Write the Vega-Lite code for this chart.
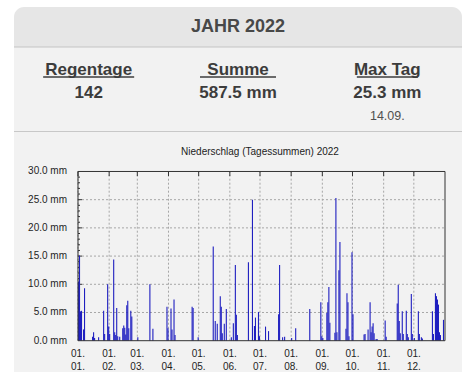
{
  "$schema": "https://vega.github.io/schema/vega-lite/v6.json",
  "background": "white",
  "padding": {"left": 13, "top": 7, "right": 13, "bottom": 7},
  "autosize": {"type": "pad"},
  "bounds": "flush",
  "spacing": 0,
  "config": {"view": {"stroke": null}, "font": "Liberation Sans"},
  "datasets": {
    "stats": [
      {"label": "Regentage", "value": "142", "sub": ""},
      {"label": "Summe", "value": "587.5 mm", "sub": ""},
      {"label": "Max Tag", "value": "25.3 mm", "sub": "14.09."}
    ],
    "months": [
      {"date": "2022-01-01"}, {"date": "2022-02-01"}, {"date": "2022-03-01"}, {"date": "2022-04-01"},
      {"date": "2022-05-01"}, {"date": "2022-06-01"}, {"date": "2022-07-01"}, {"date": "2022-08-01"},
      {"date": "2022-09-01"}, {"date": "2022-10-01"}, {"date": "2022-11-01"}, {"date": "2022-12-01"}
    ],
    "ylabels": [{"v": 0}, {"v": 5}, {"v": 10}, {"v": 15}, {"v": 20}, {"v": 25}, {"v": 30}],
    "levels": [{"v": 5}, {"v": 10}, {"v": 15}, {"v": 20}, {"v": 25}],
    "minor": [
      {"v": 1}, {"v": 2}, {"v": 3}, {"v": 4}, {"v": 6}, {"v": 7}, {"v": 8}, {"v": 9},
      {"v": 11}, {"v": 12}, {"v": 13}, {"v": 14}, {"v": 16}, {"v": 17}, {"v": 18}, {"v": 19},
      {"v": 21}, {"v": 22}, {"v": 23}, {"v": 24}, {"v": 26}, {"v": 27}, {"v": 28}, {"v": 29}
    ],
    "rain": [
      {"date": "2022-01-01", "mm": 10.5}, {"date": "2022-01-02", "mm": 15.1}, {"date": "2022-01-03", "mm": 5.2},
      {"date": "2022-01-04", "mm": 5.3}, {"date": "2022-01-06", "mm": 2.0}, {"date": "2022-01-07", "mm": 9.3},
      {"date": "2022-01-15", "mm": 0.7}, {"date": "2022-01-16", "mm": 1.5}, {"date": "2022-01-17", "mm": 0.5},
      {"date": "2022-01-21", "mm": 0.6}, {"date": "2022-01-26", "mm": 5.3}, {"date": "2022-01-27", "mm": 1.2},
      {"date": "2022-01-30", "mm": 10.0}, {"date": "2022-01-31", "mm": 2.5}, {"date": "2022-02-01", "mm": 1.2},
      {"date": "2022-02-05", "mm": 14.4}, {"date": "2022-02-06", "mm": 1.5}, {"date": "2022-02-07", "mm": 1.0},
      {"date": "2022-02-08", "mm": 5.8}, {"date": "2022-02-09", "mm": 0.8}, {"date": "2022-02-11", "mm": 0.7},
      {"date": "2022-02-14", "mm": 2.2}, {"date": "2022-02-15", "mm": 2.7}, {"date": "2022-02-16", "mm": 2.3},
      {"date": "2022-02-17", "mm": 1.1}, {"date": "2022-02-18", "mm": 6.3}, {"date": "2022-02-19", "mm": 7.1},
      {"date": "2022-02-20", "mm": 2.2}, {"date": "2022-02-22", "mm": 5.3}, {"date": "2022-02-23", "mm": 4.3},
      {"date": "2022-03-01", "mm": 0.6}, {"date": "2022-03-13", "mm": 10.0}, {"date": "2022-03-16", "mm": 2.1},
      {"date": "2022-03-30", "mm": 6.0}, {"date": "2022-03-31", "mm": 2.2}, {"date": "2022-04-03", "mm": 5.7},
      {"date": "2022-04-04", "mm": 2.0}, {"date": "2022-04-06", "mm": 7.3}, {"date": "2022-04-07", "mm": 1.0},
      {"date": "2022-04-24", "mm": 6.0}, {"date": "2022-04-25", "mm": 5.8}, {"date": "2022-04-30", "mm": 0.6},
      {"date": "2022-05-15", "mm": 16.7}, {"date": "2022-05-17", "mm": 3.5}, {"date": "2022-05-19", "mm": 3.0},
      {"date": "2022-05-22", "mm": 7.9}, {"date": "2022-05-23", "mm": 6.0}, {"date": "2022-05-24", "mm": 1.3},
      {"date": "2022-05-26", "mm": 3.0}, {"date": "2022-05-28", "mm": 5.6}, {"date": "2022-06-02", "mm": 0.6},
      {"date": "2022-06-04", "mm": 3.1}, {"date": "2022-06-06", "mm": 13.4}, {"date": "2022-06-07", "mm": 4.6},
      {"date": "2022-06-08", "mm": 1.0}, {"date": "2022-06-19", "mm": 13.9}, {"date": "2022-06-23", "mm": 25.0},
      {"date": "2022-06-25", "mm": 2.6}, {"date": "2022-06-26", "mm": 4.1}, {"date": "2022-06-29", "mm": 5.1},
      {"date": "2022-06-30", "mm": 0.8}, {"date": "2022-07-06", "mm": 2.5}, {"date": "2022-07-09", "mm": 1.7},
      {"date": "2022-07-19", "mm": 4.7}, {"date": "2022-07-20", "mm": 13.4}, {"date": "2022-07-23", "mm": 0.6},
      {"date": "2022-07-25", "mm": 0.7}, {"date": "2022-08-01", "mm": 0.5}, {"date": "2022-08-05", "mm": 2.2},
      {"date": "2022-08-19", "mm": 5.6}, {"date": "2022-08-30", "mm": 6.8}, {"date": "2022-08-31", "mm": 0.8},
      {"date": "2022-09-01", "mm": 0.5}, {"date": "2022-09-05", "mm": 4.9}, {"date": "2022-09-06", "mm": 6.8},
      {"date": "2022-09-07", "mm": 9.5}, {"date": "2022-09-08", "mm": 3.2}, {"date": "2022-09-13", "mm": 1.4},
      {"date": "2022-09-14", "mm": 25.3}, {"date": "2022-09-15", "mm": 1.5}, {"date": "2022-09-17", "mm": 12.5},
      {"date": "2022-09-18", "mm": 17.5}, {"date": "2022-09-24", "mm": 2.1}, {"date": "2022-09-25", "mm": 8.4},
      {"date": "2022-09-26", "mm": 6.8}, {"date": "2022-09-27", "mm": 0.8}, {"date": "2022-09-30", "mm": 15.7},
      {"date": "2022-10-01", "mm": 4.7}, {"date": "2022-10-12", "mm": 1.1}, {"date": "2022-10-13", "mm": 1.2},
      {"date": "2022-10-16", "mm": 2.0}, {"date": "2022-10-18", "mm": 6.8}, {"date": "2022-10-19", "mm": 1.5},
      {"date": "2022-10-20", "mm": 2.5}, {"date": "2022-10-21", "mm": 3.1}, {"date": "2022-10-22", "mm": 1.3},
      {"date": "2022-10-24", "mm": 0.3}, {"date": "2022-10-25", "mm": 0.3}, {"date": "2022-11-02", "mm": 3.6},
      {"date": "2022-11-03", "mm": 0.7}, {"date": "2022-11-14", "mm": 6.6}, {"date": "2022-11-15", "mm": 9.9},
      {"date": "2022-11-16", "mm": 3.5}, {"date": "2022-11-17", "mm": 1.3}, {"date": "2022-11-19", "mm": 5.2},
      {"date": "2022-11-20", "mm": 1.2}, {"date": "2022-11-23", "mm": 5.3}, {"date": "2022-11-24", "mm": 1.2},
      {"date": "2022-11-25", "mm": 0.6}, {"date": "2022-11-28", "mm": 8.3}, {"date": "2022-11-29", "mm": 1.2},
      {"date": "2022-12-01", "mm": 0.5}, {"date": "2022-12-05", "mm": 5.2}, {"date": "2022-12-06", "mm": 1.2},
      {"date": "2022-12-08", "mm": 0.6}, {"date": "2022-12-09", "mm": 0.4}, {"date": "2022-12-19", "mm": 5.2},
      {"date": "2022-12-20", "mm": 1.2}, {"date": "2022-12-22", "mm": 8.4}, {"date": "2022-12-23", "mm": 7.9},
      {"date": "2022-12-24", "mm": 7.3}, {"date": "2022-12-25", "mm": 6.4}, {"date": "2022-12-26", "mm": 1.5},
      {"date": "2022-12-27", "mm": 1.0}, {"date": "2022-12-30", "mm": 3.7}
    ]
  },
  "vconcat": [
    {
      "width": 448,
      "height": 125,
      "resolve": {"scale": {"x": "independent", "y": "independent", "size": "independent"}},
      "layer": [
        {
          "data": {"values": [{}]},
          "mark": {"type": "rect", "color": "#f2f2f2"},
          "encoding": {
            "x": {"datum": 0, "type": "quantitative", "scale": {"domain": [0, 1]}, "axis": null},
            "x2": {"datum": 1},
            "y": {"datum": 0, "type": "quantitative", "scale": {"domain": [0, 1]}, "axis": null},
            "y2": {"datum": 0.7}
          }
        },
        {
          "data": {"values": [{}]},
          "mark": {"type": "rect", "color": "#e6e6e6", "cornerRadiusTopLeft": 10, "cornerRadiusTopRight": 10},
          "encoding": {
            "x": {"datum": 0, "type": "quantitative", "scale": {"domain": [0, 1]}, "axis": null},
            "x2": {"datum": 1},
            "y": {"datum": 0.68, "type": "quantitative", "scale": {"domain": [0, 1]}, "axis": null},
            "y2": {"datum": 1}
          }
        },
        {
          "data": {"values": [{}]},
          "mark": {"type": "rule", "color": "#c4c4c4", "strokeWidth": 1.2},
          "encoding": {
            "x": {"datum": 0, "type": "quantitative", "scale": {"domain": [0, 1]}, "axis": null},
            "x2": {"datum": 1},
            "y": {"datum": 0.68, "type": "quantitative", "scale": {"domain": [0, 1]}, "axis": null}
          }
        },
        {
          "data": {"values": [{}]},
          "mark": {"type": "rule", "color": "#c8c8c8", "strokeWidth": 1.2},
          "encoding": {
            "x": {"datum": 0, "type": "quantitative", "scale": {"domain": [0, 1]}, "axis": null},
            "x2": {"datum": 1},
            "y": {"datum": 0.004, "type": "quantitative", "scale": {"domain": [0, 1]}, "axis": null}
          }
        },
        {
          "data": {"values": [{"t": "JAHR 2022"}]},
          "mark": {"type": "text", "fontSize": 18, "fontWeight": "bold", "color": "#484848", "baseline": "middle", "align": "center"},
          "encoding": {
            "text": {"field": "t"},
            "x": {"datum": 0.5, "type": "quantitative", "scale": {"domain": [0, 1]}, "axis": null},
            "y": {"datum": 0.84, "type": "quantitative", "scale": {"domain": [0, 1]}, "axis": null}
          }
        },
        {
          "data": {"name": "stats"},
          "mark": {"type": "text", "fontSize": 17, "fontWeight": "bold", "color": "#3c3c3c", "baseline": "alphabetic", "align": "center"},
          "encoding": {
            "text": {"field": "label"},
            "x": {"field": "label", "type": "nominal", "sort": null, "scale": {"paddingInner": 0, "paddingOuter": 0}, "axis": null},
            "y": {"datum": 0.46, "type": "quantitative", "scale": {"domain": [0, 1]}, "axis": null}
          }
        },
        {
          "data": {"name": "stats"},
          "mark": {"type": "tick", "thickness": 1.6, "color": "#3c3c3c", "orient": "horizontal", "opacity": 1},
          "encoding": {
            "x": {"field": "label", "type": "nominal", "sort": null, "scale": {"paddingInner": 0, "paddingOuter": 0}, "axis": null},
            "y": {"datum": 0.44, "type": "quantitative", "scale": {"domain": [0, 1]}, "axis": null},
            "size": {"field": "label", "type": "ordinal", "sort": null, "scale": {"domain": ["Regentage", "Summe", "Max Tag"], "range": [91, 61, 70]}, "legend": null}
          }
        },
        {
          "data": {"name": "stats"},
          "mark": {"type": "text", "fontSize": 17, "fontWeight": "bold", "color": "#3c3c3c", "baseline": "alphabetic", "align": "center"},
          "encoding": {
            "text": {"field": "value"},
            "x": {"field": "label", "type": "nominal", "sort": null, "scale": {"paddingInner": 0, "paddingOuter": 0}, "axis": null},
            "y": {"datum": 0.274, "type": "quantitative", "scale": {"domain": [0, 1]}, "axis": null}
          }
        },
        {
          "data": {"name": "stats"},
          "mark": {"type": "text", "fontSize": 12.5, "color": "#505050", "baseline": "alphabetic", "align": "center"},
          "encoding": {
            "text": {"field": "sub"},
            "x": {"field": "label", "type": "nominal", "sort": null, "scale": {"paddingInner": 0, "paddingOuter": 0}, "axis": null},
            "y": {"datum": 0.094, "type": "quantitative", "scale": {"domain": [0, 1]}, "axis": null}
          }
        }
      ]
    },
    {
      "width": 448,
      "height": 240,
      "view": {"fill": "#f2f2f2", "stroke": null},
      "layer": [
        {
          "data": {"name": "levels"},
          "mark": {"type": "rule", "color": "#a6a6a6", "strokeDash": [2, 2], "strokeWidth": 1},
          "encoding": {
            "y": {"field": "v", "type": "quantitative", "scale": {"domain": [-5.55, 37], "nice": false, "zero": false}, "axis": null},
            "x": {"datum": {"year": 2022, "month": 1, "date": 1, "utc": true}, "type": "temporal", "scale": {"type": "utc", "domain": [{"year": 2021, "month": 10, "date": 29, "hours": 8, "minutes": 24, "utc": true}, {"year": 2023, "month": 1, "date": 17, "hours": 21, "minutes": 40, "utc": true}]}, "axis": null},
            "x2": {"datum": {"year": 2023, "month": 1, "date": 1, "utc": true}}
          }
        },
        {
          "data": {"name": "months"},
          "mark": {"type": "rule", "color": "#a6a6a6", "strokeDash": [2, 2], "strokeWidth": 1},
          "encoding": {
            "x": {"field": "date", "type": "temporal", "scale": {"type": "utc", "domain": [{"year": 2021, "month": 10, "date": 29, "hours": 8, "minutes": 24, "utc": true}, {"year": 2023, "month": 1, "date": 17, "hours": 21, "minutes": 40, "utc": true}]}, "axis": null},
            "y": {"datum": 0, "type": "quantitative", "scale": {"domain": [-5.55, 37], "nice": false, "zero": false}, "axis": null},
            "y2": {"datum": 30}
          }
        },
        {
          "data": {"name": "months"},
          "mark": {"type": "rule", "color": "#333333", "strokeWidth": 1},
          "encoding": {
            "x": {"field": "date", "type": "temporal", "scale": {"type": "utc", "domain": [{"year": 2021, "month": 10, "date": 29, "hours": 8, "minutes": 24, "utc": true}, {"year": 2023, "month": 1, "date": 17, "hours": 21, "minutes": 40, "utc": true}]}, "axis": null},
            "y": {"datum": 30, "type": "quantitative", "scale": {"domain": [-5.55, 37], "nice": false, "zero": false}, "axis": null},
            "y2": {"datum": 29.2}
          }
        },
        {
          "data": {"name": "minor"},
          "mark": {"type": "rule", "color": "#333333", "strokeWidth": 1},
          "encoding": {
            "y": {"field": "v", "type": "quantitative", "scale": {"domain": [-5.55, 37], "nice": false, "zero": false}, "axis": null},
            "x": {"datum": {"year": 2022, "month": 1, "date": 1, "utc": true}, "type": "temporal", "scale": {"type": "utc", "domain": [{"year": 2021, "month": 10, "date": 29, "hours": 8, "minutes": 24, "utc": true}, {"year": 2023, "month": 1, "date": 17, "hours": 21, "minutes": 40, "utc": true}]}, "axis": null},
            "x2": {"datum": {"year": 2022, "month": 1, "date": 3, "utc": true}}
          }
        },
        {
          "data": {"name": "levels"},
          "mark": {"type": "rule", "color": "#333333", "strokeWidth": 1},
          "encoding": {
            "y": {"field": "v", "type": "quantitative", "scale": {"domain": [-5.55, 37], "nice": false, "zero": false}, "axis": null},
            "x": {"datum": {"year": 2022, "month": 1, "date": 1, "utc": true}, "type": "temporal", "scale": {"type": "utc", "domain": [{"year": 2021, "month": 10, "date": 29, "hours": 8, "minutes": 24, "utc": true}, {"year": 2023, "month": 1, "date": 17, "hours": 21, "minutes": 40, "utc": true}]}, "axis": null},
            "x2": {"datum": {"year": 2022, "month": 1, "date": 5, "utc": true}}
          }
        },
        {
          "data": {"name": "rain"},
          "mark": {"type": "rule", "color": "#1f1fc0", "strokeWidth": 1.1, "xOffset": 0.5},
          "encoding": {
            "x": {"field": "date", "type": "temporal", "scale": {"type": "utc", "domain": [{"year": 2021, "month": 10, "date": 29, "hours": 8, "minutes": 24, "utc": true}, {"year": 2023, "month": 1, "date": 17, "hours": 21, "minutes": 40, "utc": true}]}, "axis": null},
            "y": {"field": "mm", "type": "quantitative", "scale": {"domain": [-5.55, 37], "nice": false, "zero": false}, "axis": null},
            "y2": {"datum": 0}
          }
        },
        {
          "data": {"values": [{}]},
          "mark": {"type": "rect", "filled": false, "color": "#333333", "strokeWidth": 1},
          "encoding": {
            "x": {"datum": {"year": 2022, "month": 1, "date": 1, "utc": true}, "type": "temporal", "scale": {"type": "utc", "domain": [{"year": 2021, "month": 10, "date": 29, "hours": 8, "minutes": 24, "utc": true}, {"year": 2023, "month": 1, "date": 17, "hours": 21, "minutes": 40, "utc": true}]}, "axis": null},
            "x2": {"datum": {"year": 2023, "month": 1, "date": 1, "utc": true}},
            "y": {"datum": 0, "type": "quantitative", "scale": {"domain": [-5.55, 37], "nice": false, "zero": false}, "axis": null},
            "y2": {"datum": 30}
          }
        },
        {
          "data": {"name": "ylabels"},
          "transform": [{"calculate": "format(datum.v, '.1f') + ' mm'", "as": "lab"}],
          "mark": {"type": "text", "fontSize": 10, "color": "#1e1e1e", "baseline": "middle", "align": "right", "dx": -11},
          "encoding": {
            "text": {"field": "lab"},
            "x": {"datum": {"year": 2022, "month": 1, "date": 1, "utc": true}, "type": "temporal", "scale": {"type": "utc", "domain": [{"year": 2021, "month": 10, "date": 29, "hours": 8, "minutes": 24, "utc": true}, {"year": 2023, "month": 1, "date": 17, "hours": 21, "minutes": 40, "utc": true}]}, "axis": null},
            "y": {"field": "v", "type": "quantitative", "scale": {"domain": [-5.55, 37], "nice": false, "zero": false}, "axis": null}
          }
        },
        {
          "data": {"name": "months"},
          "transform": [{"calculate": "[utcFormat(toDate(datum.date), '%d.'), utcFormat(toDate(datum.date), '%m.')]", "as": "lab"}],
          "mark": {"type": "text", "fontSize": 10, "color": "#1e1e1e", "baseline": "top", "align": "center", "dy": 8.5, "lineHeight": 12.7},
          "encoding": {
            "text": {"field": "lab"},
            "x": {"field": "date", "type": "temporal", "scale": {"type": "utc", "domain": [{"year": 2021, "month": 10, "date": 29, "hours": 8, "minutes": 24, "utc": true}, {"year": 2023, "month": 1, "date": 17, "hours": 21, "minutes": 40, "utc": true}]}, "axis": null},
            "y": {"datum": 0, "type": "quantitative", "scale": {"domain": [-5.55, 37], "nice": false, "zero": false}, "axis": null}
          }
        },
        {
          "data": {"values": [{"t": "Niederschlag (Tagessummen) 2022"}]},
          "mark": {"type": "text", "fontSize": 10, "color": "#222222", "baseline": "middle", "align": "center"},
          "encoding": {
            "text": {"field": "t"},
            "x": {"datum": {"year": 2022, "month": 7, "date": 1, "utc": true}, "type": "temporal", "scale": {"type": "utc", "domain": [{"year": 2021, "month": 10, "date": 29, "hours": 8, "minutes": 24, "utc": true}, {"year": 2023, "month": 1, "date": 17, "hours": 21, "minutes": 40, "utc": true}]}, "axis": null},
            "y": {"datum": 33.5, "type": "quantitative", "scale": {"domain": [-5.55, 37], "nice": false, "zero": false}, "axis": null}
          }
        }
      ]
    }
  ]
}
